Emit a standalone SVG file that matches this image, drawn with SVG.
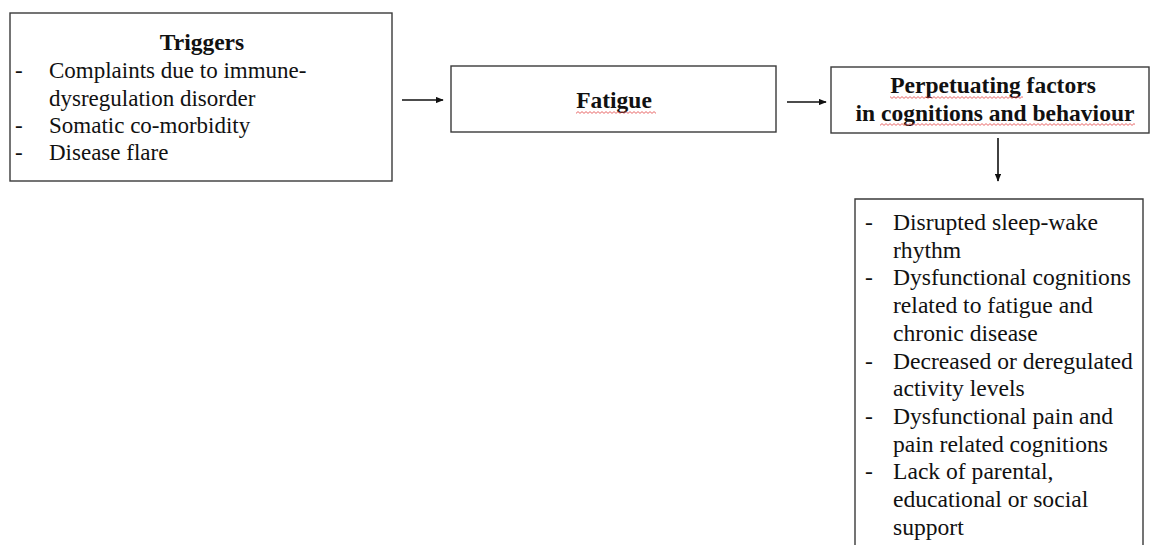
<svg xmlns="http://www.w3.org/2000/svg" width="1150" height="545" viewBox="0 0 1150 545">
  <style>
    .box { fill: #ffffff; stroke: #3a3a3a; stroke-width: 1.4; }
    .txt { font-family: "Liberation Serif", "Times New Roman", serif; font-size: 23px; fill: #111111; }
    .head { font-size: 23.5px; font-weight: bold; text-anchor: middle; }
    .big { font-size: 23.6px; }
    .link { stroke: #111111; stroke-width: 1.6; fill: none; marker-end: url(#head); }
    .spell { fill: url(#squiggle); }
  </style>
  <defs>
    <marker id="head" viewBox="0 0 10 8" refX="9" refY="4" markerWidth="5" markerHeight="4" orient="auto" markerUnits="strokeWidth">
      <path d="M0,0 L10,4 L0,8 Z" fill="#111111"/>
    </marker>
    <pattern id="squiggle" width="4" height="3" patternUnits="userSpaceOnUse">
      <path d="M0,2.4 L2,0.6 L4,2.4" stroke="#e24040" stroke-width="0.8" fill="none"/>
    </pattern>
  </defs>

  <rect width="1150" height="545" fill="#ffffff"/>

  <!-- connectors -->
  <g id="connectors">
    <line class="link" x1="402" y1="100" x2="443" y2="100"/>
    <line class="link" x1="787" y1="102" x2="826" y2="102"/>
    <line class="link" x1="998" y1="138" x2="998" y2="181"/>
  </g>

  <!-- triggers -->
  <g id="triggers">
    <rect class="box" x="10" y="13" width="382" height="168"/>
    <text class="txt head" x="202" y="50">Triggers</text>
    <text class="txt" x="15" y="78">-</text>
    <text class="txt" x="49" y="78">Complaints due to immune-</text>
    <text class="txt" x="49" y="105.5">dysregulation disorder</text>
    <text class="txt" x="15" y="132.5">-</text>
    <text class="txt" x="49" y="132.5">Somatic co-morbidity</text>
    <text class="txt" x="15" y="160">-</text>
    <text class="txt" x="49" y="160">Disease flare</text>
  </g>

  <!-- fatigue -->
  <g id="fatigue">
    <rect class="box" x="451" y="66" width="325" height="66"/>
    <text class="txt head" x="614" y="108">Fatigue</text>
    <rect class="spell" x="576" y="111" width="80" height="3"/>
  </g>

  <!-- perpetuating factors -->
  <g id="perpetuating">
    <rect class="box" x="831" y="67" width="318" height="66"/>
    <text class="txt head" x="993" y="93">Perpetuating factors</text>
    <text class="txt head" x="995" y="121">in cognitions and behaviour</text>
    <rect class="spell" x="890" y="96" width="133" height="3"/>
    <rect class="spell" x="880" y="123" width="255" height="3"/>
  </g>

  <!-- factor list -->
  <g id="factors">
    <path class="box" d="M855,546 V199 H1143 V546"/>
    <g class="txt big">
      <text x="865" y="230">-</text>
      <text x="893" y="230">Disrupted sleep-wake</text>
      <text x="893" y="257.7">rhythm</text>
      <text x="865" y="285.4">-</text>
      <text x="893" y="285.4">Dysfunctional cognitions</text>
      <text x="893" y="313.1">related to fatigue and</text>
      <text x="893" y="340.8">chronic disease</text>
      <text x="865" y="368.5">-</text>
      <text x="893" y="368.5">Decreased or deregulated</text>
      <text x="893" y="396.2">activity levels</text>
      <text x="865" y="423.9">-</text>
      <text x="893" y="423.9">Dysfunctional pain and</text>
      <text x="893" y="451.6">pain related cognitions</text>
      <text x="865" y="479.3">-</text>
      <text x="893" y="479.3">Lack of parental,</text>
      <text x="893" y="507">educational or social</text>
      <text x="893" y="534.7">support</text>
    </g>
  </g>
</svg>
